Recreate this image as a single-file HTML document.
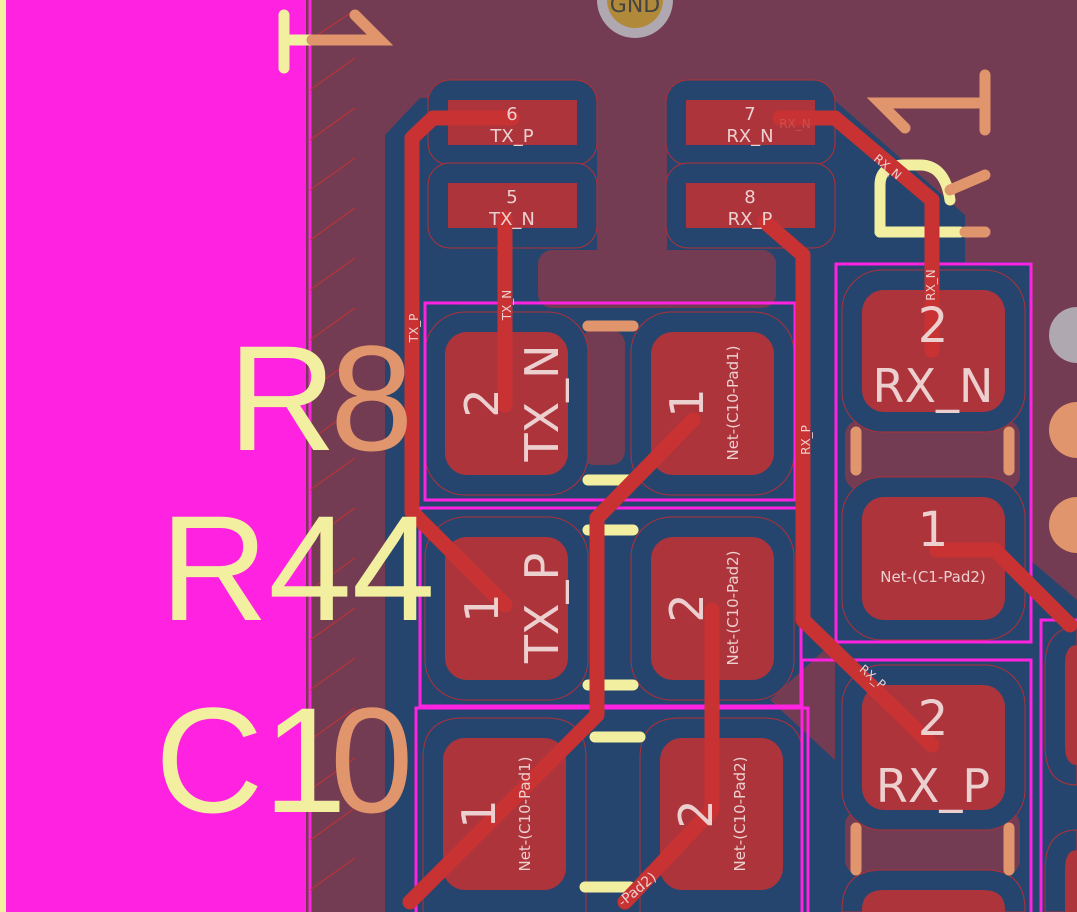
<!DOCTYPE html>
<html><head><style>html,body{margin:0;width:1077px;height:912px;background:#733c52;overflow:hidden}svg{display:block}</style></head><body>
<svg width="1077" height="912" viewBox="0 0 1077 912" xmlns="http://www.w3.org/2000/svg" font-family="DejaVu Sans, Liberation Sans, sans-serif">
<rect width="1077" height="912" fill="#733c52"/>
<path d="M385,135 L420,98 L832,98 L965,215 L965,262 L835,262 L835,912 L385,912 Z" fill="#26456e"/>
<path d="M835,262 L1030,262 L1030,560 L1077,600 L1077,912 L835,912 Z" fill="#26456e"/>
<rect x="597" y="60" width="70" height="195" fill="#733c52"/>
<rect x="538" y="250" width="238" height="58" rx="14" fill="#733c52"/>
<rect x="580" y="330" width="45" height="135" rx="14" fill="#733c52"/>
<rect x="845" y="420" width="175" height="70" rx="15" fill="#733c52"/>
<rect x="845" y="810" width="175" height="65" rx="15" fill="#733c52"/>
<path d="M770,700 L835,640 L835,760 Z" fill="#733c52"/>
<g fill="#26456e" stroke="#b03038" stroke-width="1">
<rect x="428" y="80" width="169" height="85" rx="22"/>
<rect x="428" y="163" width="169" height="85" rx="22"/>
<rect x="666" y="80" width="169" height="85" rx="22"/>
<rect x="666" y="163" width="169" height="85" rx="22"/>
</g>
<g fill="#ae343c">
<rect x="448" y="100" width="129" height="45"/>
<rect x="448" y="183" width="129" height="45"/>
<rect x="686" y="100" width="129" height="45"/>
<rect x="686" y="183" width="129" height="45"/>
</g>
<g fill="#26456e" stroke="#b03038" stroke-width="1">
<rect x="425" y="312" width="163" height="183" rx="40"/>
<rect x="631" y="312" width="163" height="183" rx="40"/>
<rect x="425" y="517" width="163" height="183" rx="40"/>
<rect x="631" y="517" width="163" height="183" rx="40"/>
<path d="M423,912 L423,758 Q423,718 463,718 L546,718 Q586,718 586,758 L586,912"/>
<path d="M640,912 L640,758 Q640,718 680,718 L763,718 Q803,718 803,758 L803,912"/>
<rect x="842" y="270" width="183" height="162" rx="40"/>
<rect x="842" y="477" width="183" height="163" rx="40"/>
<rect x="842" y="665" width="183" height="165" rx="40"/>
<path d="M842,912 L842,910 Q842,870 882,870 L985,870 Q1025,870 1025,910 L1025,912Z"/>
<path d="M1077,625 L1085,625 Q1045,625 1045,665 L1045,745 Q1045,785 1077,785Z"/>
<path d="M1077,830 Q1045,830 1045,870 L1045,912 L1077,912Z"/>
</g>
<g fill="#ae343c">
<rect x="445" y="332" width="123" height="143" rx="22"/>
<rect x="651" y="332" width="123" height="143" rx="22"/>
<rect x="445" y="537" width="123" height="143" rx="22"/>
<rect x="651" y="537" width="123" height="143" rx="22"/>
<rect x="443" y="738" width="123" height="152" rx="22"/>
<rect x="660" y="738" width="123" height="152" rx="22"/>
<rect x="862" y="290" width="143" height="122" rx="22"/>
<rect x="862" y="497" width="143" height="123" rx="22"/>
<rect x="862" y="685" width="143" height="125" rx="22"/>
<path d="M862,912 L862,910 Q862,890 884,890 L983,890 Q1005,890 1005,910 L1005,912Z"/>
<path d="M1077,645 Q1065,645 1065,665 L1065,745 Q1065,765 1077,765Z"/>
<path d="M1077,850 Q1065,850 1065,870 L1065,912 L1077,912Z"/>
</g>
<g fill="none" stroke="#ff22e0" stroke-width="3">
<rect x="425" y="303" width="370" height="197"/>
<rect x="420" y="508" width="381" height="198"/>
<rect x="836" y="264" width="195" height="378"/>
<path d="M802,912 L802,660 L1031,660 L1031,912"/>
<path d="M416,912 L416,708 L808,708 L808,912"/>
<path d="M1077,620 L1041,620 L1041,912"/>
</g>
<rect x="0" y="0" width="306" height="912" fill="#ff22e0"/>
<rect x="0" y="0" width="6" height="912" fill="#f2f0a0"/>
<line x1="310" y1="0" x2="310" y2="912" stroke="#ff22e0" stroke-width="3"/>
<g stroke="#c83232" stroke-width="1">
<line x1="310" y1="40" x2="355" y2="10"/><line x1="310" y1="90" x2="355" y2="58"/><line x1="310" y1="140" x2="355" y2="108"/><line x1="310" y1="190" x2="355" y2="158"/><line x1="310" y1="240" x2="355" y2="208"/><line x1="310" y1="290" x2="355" y2="258"/><line x1="310" y1="340" x2="355" y2="308"/><line x1="310" y1="390" x2="355" y2="358"/><line x1="310" y1="440" x2="355" y2="408"/><line x1="310" y1="490" x2="355" y2="458"/><line x1="310" y1="540" x2="355" y2="508"/><line x1="310" y1="590" x2="355" y2="558"/><line x1="310" y1="640" x2="355" y2="608"/><line x1="310" y1="690" x2="355" y2="658"/><line x1="310" y1="740" x2="355" y2="708"/><line x1="310" y1="790" x2="355" y2="758"/><line x1="310" y1="840" x2="355" y2="808"/><line x1="310" y1="890" x2="355" y2="858"/>
</g>
<g stroke-linecap="round" stroke-width="11">
<line x1="588" y1="326" x2="633" y2="326" stroke="#e0956c"/>
<line x1="588" y1="480" x2="633" y2="480" stroke="#f2f0a0"/>
<line x1="588" y1="530" x2="633" y2="530" stroke="#f2f0a0"/>
<line x1="588" y1="685" x2="633" y2="685" stroke="#f2f0a0"/>
<line x1="595" y1="737" x2="640" y2="737" stroke="#f2f0a0"/>
<line x1="585" y1="887" x2="630" y2="887" stroke="#f2f0a0"/>
<line x1="856" y1="432" x2="856" y2="470" stroke="#e0956c"/>
<line x1="1009" y1="432" x2="1009" y2="470" stroke="#e0956c"/>
<line x1="856" y1="828" x2="856" y2="870" stroke="#e0956c"/>
<line x1="1009" y1="828" x2="1009" y2="870" stroke="#e0956c"/>
</g>
<g fill="none" stroke-linecap="round" stroke-width="11">
<path d="M284,15 L284,68 M284,40 L312,40" stroke="#f2f0a0"/>
<path d="M312,40 L380,40 L355,15" stroke="#e0956c"/>
<path d="M985,75 L985,130 M985,103 L880,103 L905,128" stroke="#e0956c"/>
<path d="M880,232 L880,185 Q880,165 905,165 L920,165 Q945,165 950,200" stroke="#f2f0a0"/>
<path d="M880,232 L960,232" stroke="#f2f0a0"/>
<path d="M950,190 L985,175 M965,232 L985,232" stroke="#e0956c"/>
</g>
<path d="M597,0 A38,38 0 0 0 673,0Z" fill="#b0a8b0"/><path d="M607,0 A28,28 0 0 0 663,0Z" fill="#b08a3a"/>
<text x="635" y="12" font-size="22" text-anchor="middle" fill="#444">GND</text>
<path d="M1077,307 A28,28 0 0 0 1077,363Z" fill="#b0a8b0"/>
<path d="M1077,402 A28,28 0 0 0 1077,458Z" fill="#e0956c"/>
<path d="M1077,497 A28,28 0 0 0 1077,553Z" fill="#e0956c"/>
<g fill="none" stroke="#c83232" stroke-width="15" stroke-linecap="round" stroke-linejoin="round">
<path d="M512,118 L433,118 L412,138 L412,512 L505,605"/>
<path d="M505,218 L505,405"/>
<path d="M780,118 L835,118 L932,200 L932,350"/>
<path d="M765,222 L803,255 L803,620 L932,745"/>
<path d="M693,420 L597,518 L597,715 L410,902"/>
<path d="M712,610 L712,810 L625,902"/>
<path d="M937,550 L995,550 L1070,625"/>
</g>
<g font-size="150" fill="#f2f0a0" font-family="Liberation Sans, sans-serif">
<text x="228" y="450">R</text>
<text x="330" y="450" fill="#e0956c">8</text>
<text x="160" y="620">R44</text>
<text x="155" y="812">C1</text>
<text x="330" y="812" fill="#e0956c">0</text>
</g>
<g fill="#ecd0d0" text-anchor="middle">
<text x="512" y="120" font-size="18">6</text><text x="512" y="142" font-size="18">TX_P</text>
<text x="512" y="203" font-size="18">5</text><text x="512" y="225" font-size="18">TX_N</text>
<text x="750" y="120" font-size="18">7</text><text x="750" y="142" font-size="18">RX_N</text>
<text x="750" y="203" font-size="18">8</text><text x="750" y="225" font-size="18">RX_P</text>
<text transform="translate(498,403) rotate(-90)" font-size="46">2</text>
<text transform="translate(558,403) rotate(-90)" font-size="46">TX_N</text>
<text transform="translate(703,403) rotate(-90)" font-size="46">1</text>
<text transform="translate(738,403) rotate(-90)" font-size="15">Net-(C10-Pad1)</text>
<text transform="translate(498,608) rotate(-90)" font-size="46">1</text>
<text transform="translate(558,608) rotate(-90)" font-size="46">TX_P</text>
<text transform="translate(703,608) rotate(-90)" font-size="46">2</text>
<text transform="translate(738,608) rotate(-90)" font-size="15">Net-(C10-Pad2)</text>
<text transform="translate(495,814) rotate(-90)" font-size="46">1</text>
<text transform="translate(530,814) rotate(-90)" font-size="15">Net-(C10-Pad1)</text>
<text transform="translate(712,814) rotate(-90)" font-size="46">2</text>
<text transform="translate(745,814) rotate(-90)" font-size="15">Net-(C10-Pad2)</text>
<text x="933" y="342" font-size="48">2</text><text x="933" y="402" font-size="46">RX_N</text>
<text x="933" y="546" font-size="48">1</text><text x="933" y="582" font-size="15">Net-(C1-Pad2)</text>
<text x="933" y="735" font-size="48">2</text><text x="933" y="802" font-size="46">RX_P</text>
</g>
<g fill="#ecd0d0" font-size="12" text-anchor="middle">
<text transform="translate(418,328) rotate(-90)">TX_P</text>
<text transform="translate(511,305) rotate(-90)">TX_N</text>
<text transform="translate(810,440) rotate(-90)">RX_P</text>
<text transform="translate(885,170) rotate(40)">RX_N</text>
<text transform="translate(870,680) rotate(40)">RX_P</text>
<text x="795" y="128" fill="#c85050">RX_N</text>
<text transform="translate(935,285) rotate(-90)">RX_N</text>
<text transform="translate(640,893) rotate(-40)" font-size="14">-Pad2)</text>
</g>
</svg>
</body></html>
